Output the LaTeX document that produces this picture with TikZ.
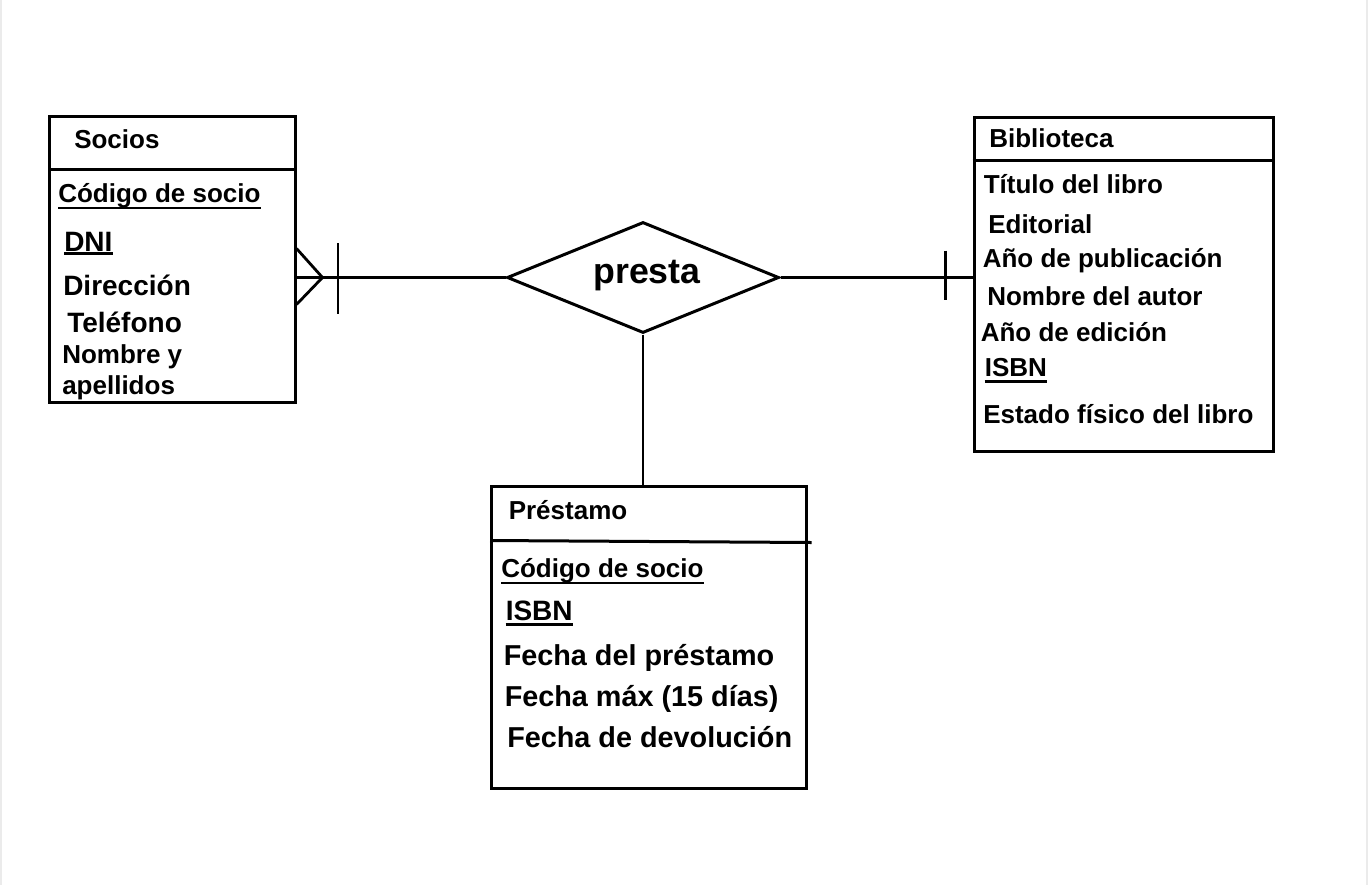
\documentclass[tikz,border=0pt]{standalone}
\usepackage{fontspec}
\setmainfont{Liberation Sans}
\usetikzlibrary{shapes.geometric,fit}
\tikzset{
  x=0.75pt, y=-0.75pt,
  lw/.style={line width=2.25pt},
  entbox/.style={draw, lw, inner sep=0pt, fit={#1}},
  attr/.style={anchor=base west, inner sep=0pt, font=\bfseries\fontsize{19.5pt}{22pt}\selectfont},
  attrbig/.style={anchor=base west, inner sep=0pt, font=\bfseries\fontsize{21pt}{24pt}\selectfont},
  attrbigger/.style={anchor=base west, inner sep=0pt, font=\bfseries\fontsize{21.6pt}{24pt}\selectfont},
  conn/.style={line width=2.1pt},
  uline/.style={line width=2pt},
  rel/.style={draw, lw, diamond, inner sep=0pt, minimum width=204pt, minimum height=83.25pt},
}
\begin{document}
\begin{tikzpicture}
\useasboundingbox (0,0) rectangle (1369,885);
\fill[white] (0,0) rectangle (1369,885);
\draw[black!8, line width=1.5pt] (1,0) -- (1,885);
\draw[black!8, line width=1.5pt] (1367,0) -- (1367,885);

% ---------- Socios ----------
\node[entbox={(49.5,116) (295,402)}] (socios) {};
\draw[lw] (socios.west |- 0,169) -- (socios.east |- 0,169);
\node[attr] (s0) at (74,148) {Socios};
\node[attr] (s1) at (58,202) {Código de socio};
\draw[uline] ([yshift=-4.5pt]s1.base west) -- ([yshift=-4.5pt]s1.base east);
\node[attrbig] (s2) at (64,251) {DNI};
\draw[uline] ([yshift=-2pt]s2.base west) -- ([yshift=-2pt]s2.base east);
\node[attrbig] (s3) at (63,295) {Dirección};
\node[attrbig] (s4) at (67,332) {Teléfono};
\node[attr] (s5) at (62,363) {Nombre y};
\node[attr] (s6) at (62,394.5) {apellidos};

% ---------- Biblioteca ----------
\node[entbox={(974,117) (1273,451)}] (biblio) {};
\draw[lw] (biblio.west |- 0,160.5) -- (biblio.east |- 0,160.5);
\node[attr] (b0) at (989,147.5) {Biblioteca};
\node[attr] (b1) at (983.5,193) {Título del libro};
\node[attr] (b2) at (988,233.5) {Editorial};
\node[attr] (b3) at (982.5,267) {Año de publicación};
\node[attr] (b4) at (987,305) {Nombre del autor};
\node[attr] (b5) at (980.5,341) {Año de edición};
\node[attr] (b6) at (984.5,376.5) {ISBN};
\draw[uline] ([yshift=-3.5pt]b6.base west) -- ([yshift=-3.5pt]b6.base east);
\node[attr] (b7) at (983,423.5) {Estado físico del libro};

% ---------- Préstamo ----------
\node[entbox={(491.5,486) (806,788)}] (prestamo) {};
\draw[lw] (prestamo.west |- 0,540.5) -- ([xshift=3pt]prestamo.east |- 0,542.5);
\node[attr] (p0) at (508.5,519.5) {Préstamo};
\node[attr] (p1) at (501,577) {Código de socio};
\draw[uline] ([yshift=-4.5pt]p1.base west) -- ([yshift=-4.5pt]p1.base east);
\node[attrbig] (p2) at (505.5,620) {ISBN};
\draw[uline] ([yshift=-3.5pt]p2.base west) -- ([yshift=-3.5pt]p2.base east);
\node[attrbigger] (p3) at (503.5,665) {Fecha del préstamo};
\node[attrbigger] (p4) at (504.5,706) {Fecha máx (15 días)};
\node[attrbigger] (p5) at (507,747) {Fecha de devolución};

% ---------- Relationship ----------
\node[rel] (presta) at (643,277.5) {};
\node[anchor=base, inner sep=0pt, font=\bfseries\fontsize{26.8pt}{30pt}\selectfont] (prestalbl) at (647,283) {presta};

% ---------- Connectors ----------
\draw[conn] (socios.east |- presta.west) -- (presta.west);
\draw[conn] (presta.east) -- (biblio.west |- presta.east);
\draw[conn] (presta.south) -- (presta.south |- prestamo.north);

% crow's foot (many) at Socios
\coordinate (cf) at (322.5,277.5);
\draw[conn] (socios.east |- 0,248.5) -- (cf) -- (socios.east |- 0,304.5);
\draw[conn] (338,243) -- (338,314);
% one bar at Biblioteca
\draw[conn] (945.5,250.5) -- (945.5,300);
\end{tikzpicture}
\end{document}
